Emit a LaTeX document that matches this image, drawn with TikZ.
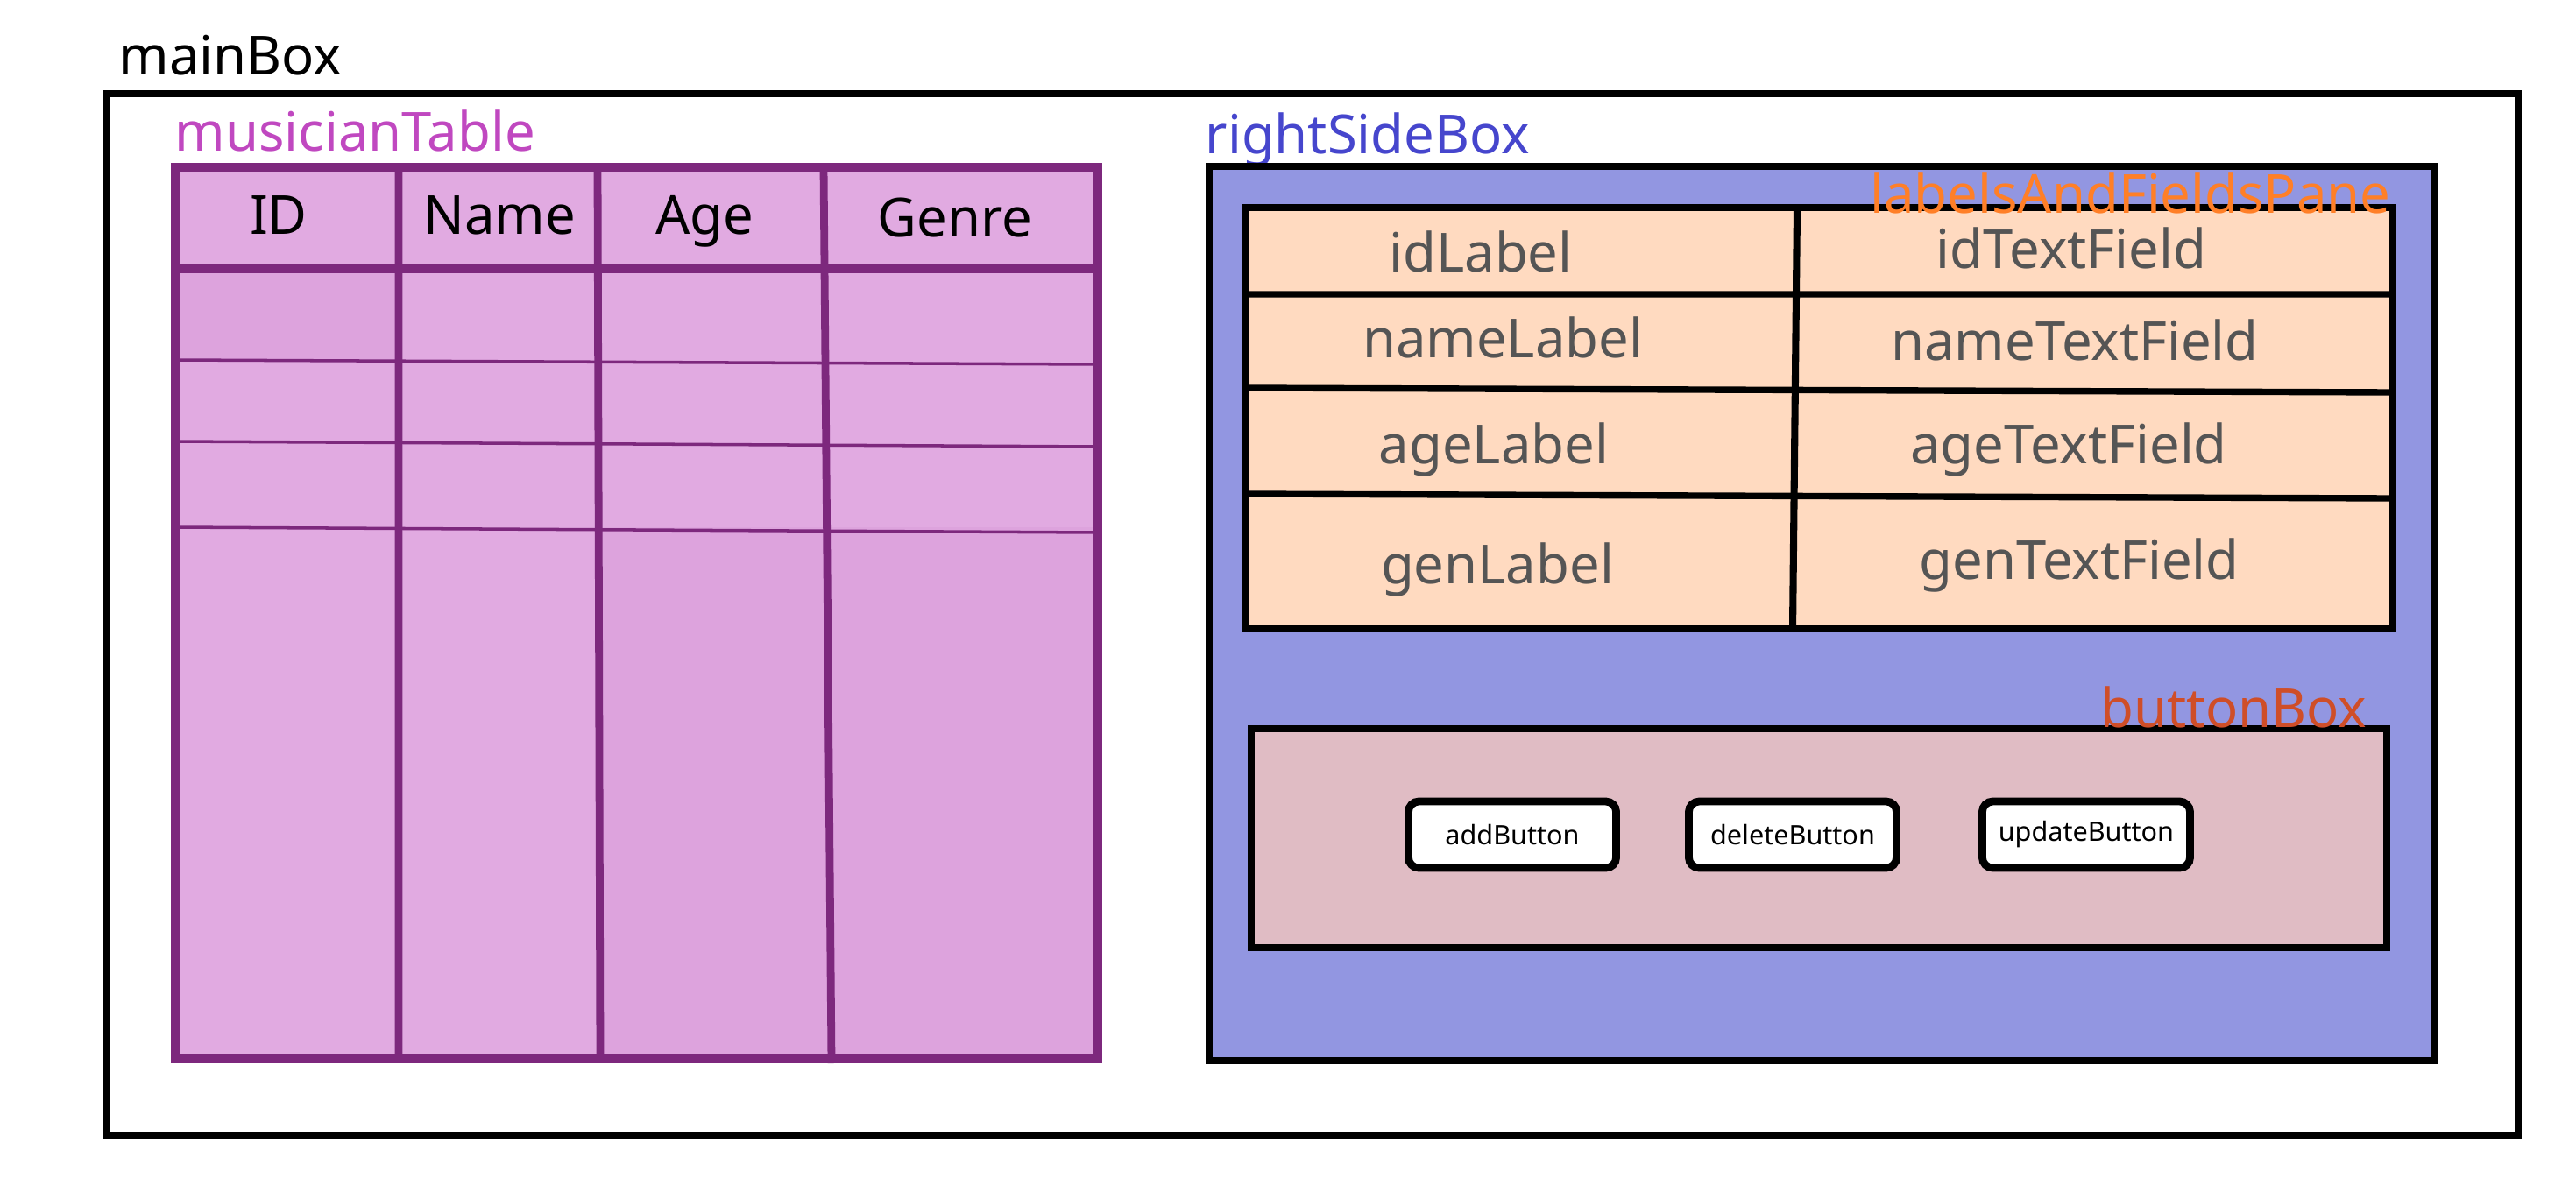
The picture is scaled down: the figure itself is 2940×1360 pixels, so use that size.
\documentclass[tikz,border=0pt]{standalone}
\usepackage{fontspec}
\setmainfont{Noto Sans}
\usetikzlibrary{positioning}

\definecolor{tableline}{RGB}{125,40,125}
\definecolor{tablefill}{RGB}{225,170,225}
\definecolor{tabledark}{RGB}{221,163,221}
\definecolor{tabletitle}{RGB}{192,72,192}
\definecolor{sidefill}{RGB}{146,150,225}
\definecolor{sidetitle}{RGB}{70,70,205}
\definecolor{panefill}{RGB}{255,218,192}
\definecolor{panetext}{RGB}{85,85,85}
\definecolor{panetitle}{RGB}{255,127,39}
\definecolor{btnboxfill}{RGB}{224,188,196}
\definecolor{btnboxtitle}{RGB}{207,78,40}

\tikzset{
  bigfont/.style={font=\fontsize{17.5}{21}\selectfont},
  boxtitle/.style={bigfont, inner sep=0pt, anchor=base west},
  cell/.style={bigfont, inner sep=0pt, anchor=base},
  field/.style={cell, text=panetext},
  btn/.style={draw, line width=2.5pt, fill=white, rounded corners=0.12cm,
    minimum width=2.37cm, minimum height=0.76cm, inner sep=0pt,
    font=\fontsize{8.7}{10}\selectfont}
}

\begin{document}
\begin{tikzpicture}[x=0.01cm, y=-0.01cm]
\useasboundingbox (0,0) rectangle (2940,1360);

% mainBox
\draw[line width=2.3pt] (122,107) rectangle (2874,1296);
\node[boxtitle] (mainTitle) at (135,85) {mainBox};

% musicianTable
\node[boxtitle, text=tabletitle] (tableTitle) at (199,172) {musicianTable};
\fill[tablefill] (200,191) rectangle (1253,1209);
\fill[tabledark] (200,307) rectangle (455,411);
\fill[tabledark] (684,602) rectangle (1253,1209);
\draw[tableline, line width=1pt] (200,411) -- (1253,416)
  (200,504) -- (1253,510) (200,602) -- (1253,608);
\draw[tableline, line width=2.5pt] (455,191) -- (455,1209)
  (682,191) -- (685,1209) (940,191) -- (949,1214);
\draw[tableline, line width=2.8pt] (200,307) -- (1253,307);
\draw[tableline, line width=2.8pt] (200,191) rectangle (1253,1209);
\node[cell] (idHead) at (318,267) {ID};
\node[cell] (nameHead) at (570,267) {Name};
\node[cell] (ageHead) at (804,267) {Age};
\node[cell] (genreHead) at (1090,270) {Genre};

% rightSideBox
\node[boxtitle, text=sidetitle] (sideTitle) at (1375,175) {rightSideBox};
\draw[fill=sidefill, line width=2.5pt] (1380,190) rectangle (2778,1211);

% labelsAndFieldsPane
\draw[fill=panefill, line width=2.4pt] (1421,237) rectangle (2731,718);
\draw[line width=2.1pt] (1421,336) -- (2731,336)
  (1421,443) -- (2731,448) (1421,564) -- (2731,569);
\draw[line width=2.3pt] (2051,237) -- (2046,718);
\node[boxtitle, anchor=base east, text=panetitle] (paneTitle) at (2729,243) {labelsAndFieldsPane};
\node[field] (idLabel) at (1690,310) {idLabel};
\node[field] (idField) at (2364,306) {idTextField};
\node[field] (nameLabel) at (1715,408) {nameLabel};
\node[field] (nameField) at (2368,411) {nameTextField};
\node[field] (ageLabel) at (1705,529) {ageLabel};
\node[field] (ageField) at (2361,529) {ageTextField};
\node[field] (genLabel) at (1709,666) {genLabel};
\node[field] (genField) at (2373,661) {genTextField};

% buttonBox
\draw[fill=btnboxfill, line width=2.4pt] (1428,832) rectangle (2724,1082);
\node[boxtitle, anchor=base east, text=btnboxtitle] (btnTitle) at (2702,830) {buttonBox};
\node[btn] (addBtn) at (1726,953) {addButton};
\node[btn, right=0.74cm of addBtn] (deleteBtn) {deleteButton};
\node[btn, right=0.89cm of deleteBtn] (updateBtn) {updateButton};
\end{tikzpicture}
\end{document}
